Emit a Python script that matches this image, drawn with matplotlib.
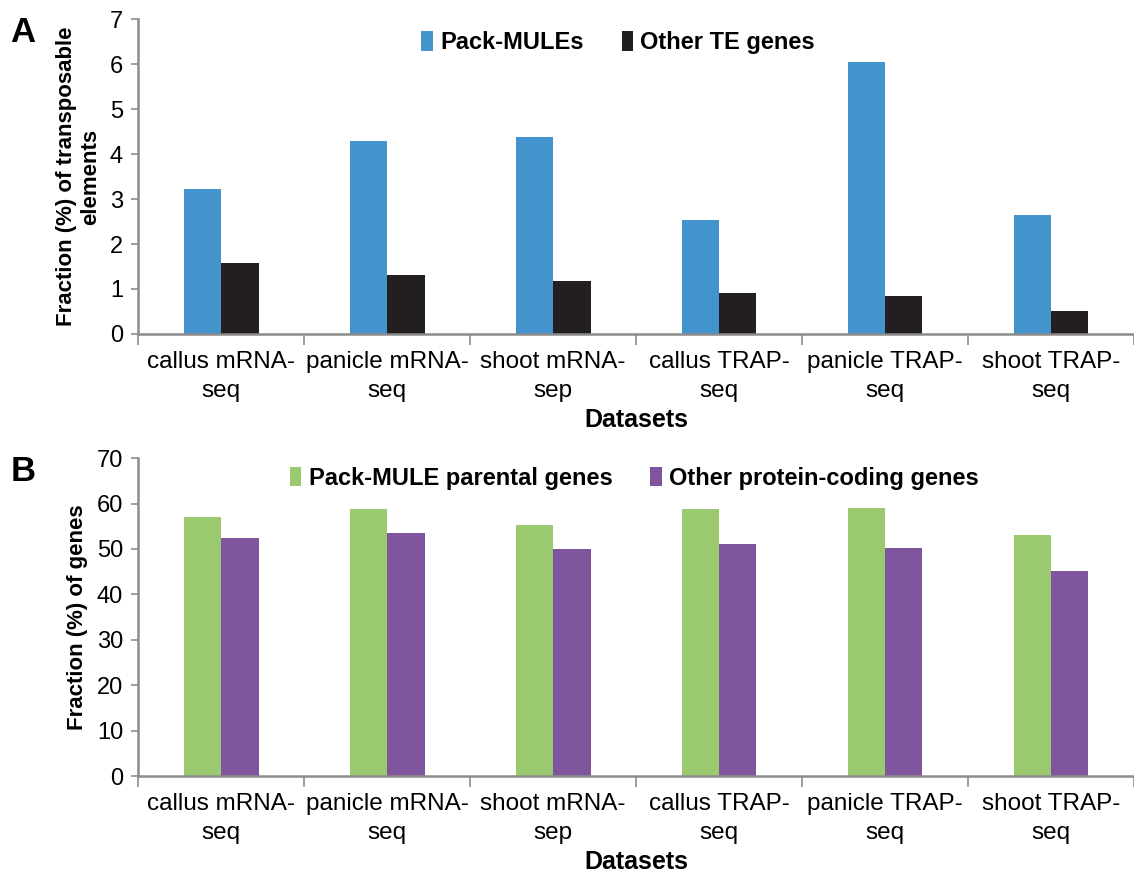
import numpy as np
import matplotlib
matplotlib.use('Agg')
import matplotlib.pyplot as plt

plt.rcParams['font.family'] = ['Liberation Sans', 'DejaVu Sans']

categories = ['callus mRNA-\nseq', 'panicle mRNA-\nseq', 'shoot mRNA-\nsep',
              'callus TRAP-\nseq', 'panicle TRAP-\nseq', 'shoot TRAP-\nseq']

pack_mules = [3.22, 4.30, 4.38, 2.53, 6.05, 2.65]
other_te = [1.57, 1.31, 1.18, 0.90, 0.85, 0.52]

parental = [57.0, 58.8, 55.3, 58.8, 59.1, 53.0]
other_coding = [52.5, 53.5, 50.0, 51.2, 50.2, 45.1]

AXIS_GREY = '#8c8c8c'


def style_axes(ax, ymax, ystep):
    n = len(categories)
    ax.set_xlim(-0.5, n - 0.5)
    ax.set_ylim(0, ymax)
    ax.set_yticks(np.arange(0, ymax + ystep / 2, ystep))
    ax.set_xticks(np.arange(n))
    ax.set_xticklabels(categories, fontsize=17.5, linespacing=1.45)
    ax.tick_params(axis='x', length=0, pad=12)
    ax.set_xticks(np.arange(n + 1) - 0.5, minor=True)
    ax.tick_params(axis='x', which='minor', length=8, color=AXIS_GREY, width=1.2)
    ax.tick_params(axis='y', length=5, color=AXIS_GREY, width=1.2, labelsize=17, pad=6)
    for s in ['top', 'right']:
        ax.spines[s].set_visible(False)
    for s in ['left', 'bottom']:
        ax.spines[s].set_color(AXIS_GREY)
        ax.spines[s].set_linewidth(1.8)
    ax.set_xlabel('Datasets', fontsize=18, fontweight='bold', labelpad=4)


def draw_panel(ax, s1, s2, names, colors, ymax, ystep, ylabel, letter, legend_x, legend_y):
    x = np.arange(len(categories))
    w = 0.225
    ax.bar(x - w / 2, s1, width=w, color=colors[0], label=names[0])
    ax.bar(x + w / 2, s2, width=w, color=colors[1], label=names[1])
    style_axes(ax, ymax, ystep)
    ax.set_ylabel(ylabel, fontsize=16, fontweight='bold', labelpad=6)
    ax.legend(loc='upper center', bbox_to_anchor=(legend_x, legend_y), ncol=2,
              frameon=False, handlelength=0.5, handleheight=0.9,
              handletextpad=0.3, columnspacing=1.6,
              prop={'size': 17, 'weight': 'bold'})
    fig = ax.figure
    bbox = ax.get_position()
    fig.text(0.009, bbox.y1 + 0.004, letter, fontsize=25,
             fontweight='bold', va='top', ha='left')


fig = plt.figure(figsize=(11.34, 8.81), dpi=100)
ax1 = fig.add_axes([0.122, 0.621, 0.878, 0.357])
ax2 = fig.add_axes([0.122, 0.119, 0.878, 0.361])

draw_panel(ax1, pack_mules, other_te, ['Pack-MULEs', 'Other TE genes'],
           ['#4393cc', '#231f20'], 7, 1,
           'Fraction (%) of transposable\nelements', 'A', 0.482, 1.03)
draw_panel(ax2, parental, other_coding,
           ['Pack-MULE parental genes', 'Other protein-coding genes'],
           ['#9bc96f', '#7f559e'], 70, 10,
           'Fraction (%) of genes', 'B', 0.498, 1.04)

fig.savefig('out.png', dpi=100)
